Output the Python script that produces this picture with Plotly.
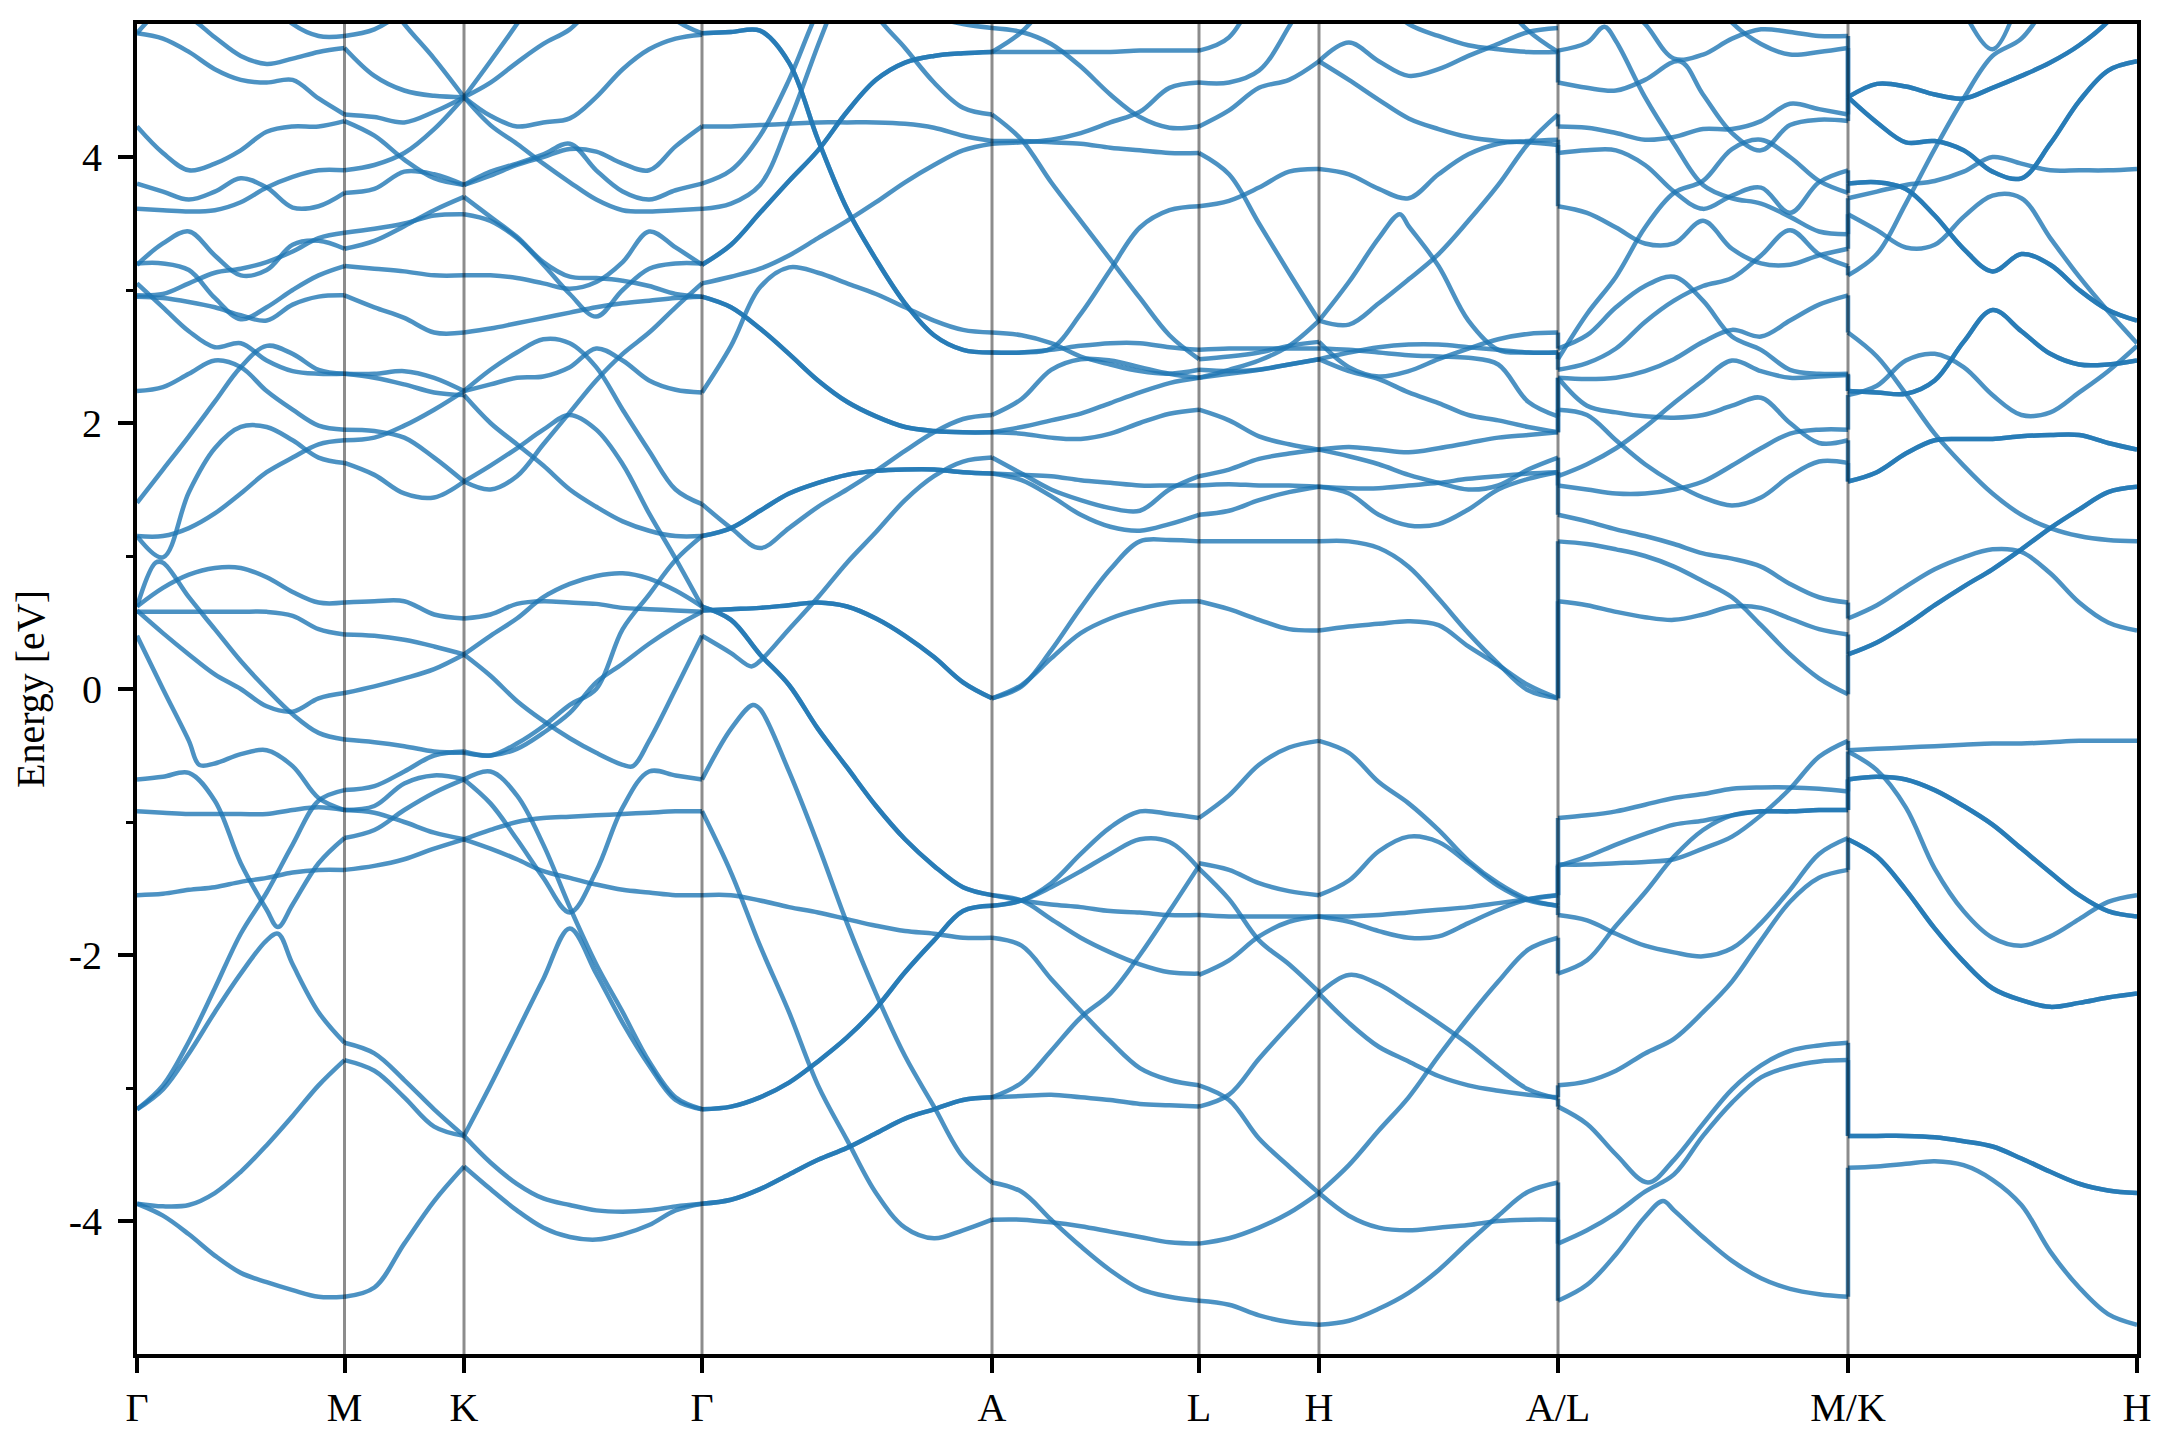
import plotly.graph_objects as go
import numpy as np

N = None
TICK_POS = [0, 207.5, 327, 565, 855, 1062, 1182, 1421, 1711, 2000]
TICK_TXT = ["Γ", "M", "K", "Γ", "A", "L", "H", "A/L", "M/K", "H"]

G_M = [
 [4.93,4.89,4.79,4.66,4.58,4.56,4.58,4.44,4.32],
 [4.93,5.10,5.05,4.90,4.76,4.70,4.74,4.79,4.82],
 [N,N,N,N,N,5.20,5.00,4.91,4.91],
 [4.23,4.03,3.90,3.95,4.05,4.19,4.23,4.23,4.27],
 [3.80,3.74,3.68,3.74,3.84,3.77,3.62,3.63,3.73],
 [3.61,3.60,3.59,3.60,3.66,3.77,3.85,3.90,3.90],
 [3.19,3.35,3.44,3.26,3.11,3.15,3.34,3.37,3.31],
 [3.20,3.20,3.15,2.94,2.78,2.87,3.00,3.11,3.18],
 [2.96,2.97,3.05,3.13,3.16,3.21,3.29,3.39,3.43],
 [2.95,2.94,2.91,2.87,2.81,2.77,2.89,2.95,2.96],
 [3.05,2.87,2.69,2.57,2.60,2.47,2.39,2.37,2.37],
 [2.24,2.27,2.37,2.47,2.42,2.24,2.10,1.98,1.95],
 [1.40,1.65,1.90,2.16,2.42,2.58,2.52,2.40,2.37],
 [1.15,0.99,1.48,1.81,1.97,1.97,1.87,1.74,1.70],
 [1.15,1.15,1.21,1.32,1.47,1.63,1.74,1.84,1.87],
 [0.62,0.95,0.69,0.45,0.21,0.00,-0.19,-0.33,-0.38],
 [0.62,0.76,0.86,0.91,0.91,0.84,0.73,0.65,0.65],
 [0.58,0.58,0.58,0.58,0.58,0.58,0.55,0.45,0.41],
 [0.59,0.42,0.26,0.11,0.00,-0.13,-0.17,-0.07,-0.03],
 [0.40,0.00,-0.39,-0.56,-0.49,-0.46,-0.58,-0.82,-0.91],
 [-0.68,-0.66,-0.63,-0.84,-1.31,-1.66,-1.62,-1.31,-1.12],
 [-0.92,-0.93,-0.94,-0.94,-0.94,-0.94,-0.91,-0.89,-0.91],
 [-1.55,-1.54,-1.51,-1.49,-1.45,-1.42,-1.38,-1.36,-1.36],
 [-3.16,-2.98,-2.65,-2.25,-1.84,-1.53,-1.17,-0.84,-0.76],
 [-3.16,-3.01,-2.74,-2.43,-2.14,-1.89,-2.07,-2.43,-2.66],
 [-3.87,-3.89,-3.88,-3.79,-3.63,-3.43,-3.21,-2.98,-2.79],
 [-3.87,-3.96,-4.10,-4.26,-4.39,-4.46,-4.52,-4.57,-4.57],
]
G_M_EXTRA = {15: [(0.09, 0.95)], 19: [(0.30, -0.57)], 20: [(0.679, -1.79)], 24: [(0.679, -1.84)]}
M_K = [
 [4.91,4.96,5.10,5.30,5.50],
 [5.60,5.30,5.00,4.74,4.45],
 [4.82,4.61,4.50,4.46,4.45],
 [4.32,4.30,4.26,4.34,4.45],
 [4.27,4.16,3.98,3.84,3.79],
 [3.90,3.94,4.03,4.21,4.45],
 [3.73,3.76,3.89,3.87,3.79],
 [3.43,3.46,3.50,3.56,3.57],
 [3.31,3.37,3.48,3.60,3.70],
 [3.18,3.16,3.14,3.11,3.11],
 [2.96,2.87,2.79,2.68,2.68],
 [2.37,2.37,2.39,2.34,2.24],
 [2.37,2.34,2.29,2.23,2.21],
 [1.95,1.94,1.89,1.74,1.56],
 [1.87,1.89,1.98,2.10,2.24],
 [1.70,1.61,1.47,1.44,1.56],
 [0.65,0.66,0.66,0.56,0.53],
 [0.41,0.40,0.37,0.32,0.26],
 [-0.03,0.02,0.08,0.15,0.26],
 [-0.38,-0.40,-0.43,-0.47,-0.48],
 [-0.76,-0.73,-0.62,-0.50,-0.47],
 [-0.91,-0.88,-0.71,-0.65,-0.68],
 [-0.91,-0.93,-1.00,-1.08,-1.13],
 [-1.12,-1.06,-0.91,-0.78,-0.68],
 [-1.36,-1.33,-1.28,-1.20,-1.13],
 [-2.66,-2.74,-2.94,-3.16,-3.36],
 [-2.79,-2.87,-3.07,-3.29,-3.36],
 [-4.57,-4.50,-4.17,-3.85,-3.59],
]
K_G = [
 [4.45,4.72,5.00,5.30,N,N,N,N,N,N],
 [4.45,4.56,4.71,4.85,4.96,5.15,5.25,5.25,5.03,4.93],
 [4.45,4.31,4.23,4.26,4.29,4.45,4.66,4.81,4.89,4.92],
 [4.45,4.24,4.10,3.95,3.81,3.68,3.60,3.59,3.60,3.61],
 [3.79,3.89,3.95,4.02,4.10,3.90,3.74,3.68,3.75,3.80],
 [3.79,3.86,3.94,4.00,4.06,4.04,3.95,3.90,4.08,4.23],
 [3.70,3.55,3.40,3.21,3.10,3.09,3.07,3.03,2.97,2.95],
 [3.57,3.52,3.39,3.19,2.97,2.80,3.00,3.16,3.20,3.20],
 [3.11,3.11,3.09,3.05,3.01,3.06,3.21,3.44,3.32,3.19],
 [2.68,2.71,2.75,2.79,2.83,2.87,2.90,2.92,2.94,2.95],
 [2.24,2.29,2.34,2.35,2.42,2.56,2.47,2.32,2.25,2.23],
 [2.24,2.40,2.53,2.63,2.60,2.42,2.10,1.79,1.50,1.39],
 [2.21,2.00,1.84,1.68,1.50,1.37,1.26,1.19,1.15,1.15],
 [1.56,1.68,1.81,1.95,2.06,1.95,1.69,1.32,0.98,0.62],
 [1.56,1.50,1.60,1.84,2.08,2.32,2.52,2.68,2.87,3.05],
 [0.53,0.56,0.64,0.66,0.65,0.64,0.61,0.60,0.59,0.58],
 [0.26,0.40,0.53,0.69,0.79,0.85,0.87,0.83,0.74,0.62],
 [0.26,0.10,-0.09,-0.24,-0.37,-0.48,-0.57,-0.39,0.00,0.40],
 [-0.47,-0.50,-0.41,-0.28,-0.12,0.00,0.45,0.71,0.97,1.15],
 [-0.48,-0.50,-0.45,-0.33,-0.18,0.05,0.19,0.34,0.47,0.58],
 [-0.68,-0.62,-0.80,-1.17,-1.64,-2.07,-2.43,-2.80,-3.07,-3.16],
 [-0.68,-0.86,-1.13,-1.42,-1.68,-1.37,-0.89,-0.62,-0.65,-0.68],
 [-1.13,-1.20,-1.28,-1.37,-1.42,-1.47,-1.51,-1.53,-1.55,-1.55],
 [-1.13,-1.06,-1.00,-0.97,-0.96,-0.95,-0.94,-0.93,-0.92,-0.92],
 [-3.36,-2.98,-2.58,-2.18,-1.80,-2.14,-2.51,-2.83,-3.09,-3.16],
 [-3.36,-3.56,-3.72,-3.83,-3.88,-3.92,-3.93,-3.92,-3.89,-3.87],
 [-3.59,-3.76,-3.92,-4.05,-4.12,-4.14,-4.10,-4.03,-3.92,-3.87],
]
K_G_EXTRA = {17: [(0.71, -0.58)]}
G_A = [
 [4.93,4.94,4.95,4.71,4.13,3.61,3.23,2.90,2.66,2.55,2.53],
 [3.19,3.34,3.58,3.82,4.05,4.34,4.58,4.71,4.76,4.78,4.79],
 [4.23,4.23,4.24,4.25,4.26,4.26,4.26,4.25,4.22,4.16,4.12],
 [3.80,3.90,4.16,4.58,5.10,5.50,N,N,N,N,N],
 [3.61,3.65,3.79,4.26,4.84,5.40,N,N,N,N,N],
 [N,N,N,N,N,5.50,5.07,4.82,4.56,4.37,4.32],
 [3.05,3.10,3.16,3.26,3.39,3.52,3.66,3.81,3.94,4.05,4.10],
 [2.23,2.58,3.02,3.17,3.13,3.05,2.97,2.87,2.77,2.70,2.68],
 [2.95,2.87,2.71,2.52,2.32,2.16,2.05,1.97,1.94,1.93,1.93],
 [1.39,1.21,1.06,1.21,1.37,1.50,1.64,1.79,1.93,2.03,2.06],
 [1.15,1.21,1.34,1.47,1.55,1.61,1.64,1.65,1.65,1.63,1.62],
 [0.40,0.27,0.21,0.45,0.69,0.95,1.18,1.42,1.60,1.71,1.74],
 [0.62,0.52,0.26,0.03,-0.30,-0.59,-0.88,-1.13,-1.33,-1.49,-1.55],
 [0.59,0.60,0.61,0.63,0.65,0.62,0.53,0.40,0.24,0.05,-0.07],
 [-0.68,-0.30,-0.15,-0.62,-1.17,-1.76,-2.29,-2.76,-3.14,-3.52,-3.71],
 [-0.92,-1.38,-1.93,-2.43,-2.98,-3.39,-3.79,-4.05,-4.13,-4.07,-3.99],
 [-1.55,-1.55,-1.59,-1.64,-1.68,-1.73,-1.78,-1.82,-1.84,-1.87,-1.87],
 [-3.16,-3.14,-3.07,-2.96,-2.80,-2.62,-2.40,-2.13,-1.89,-1.67,-1.63],
 [-3.87,-3.84,-3.76,-3.65,-3.54,-3.45,-3.34,-3.23,-3.16,-3.09,-3.07],
 [N,N,N,N,N,N,N,N,5.05,5.00,4.97],
]
G_A_DOUBLE = [0, 1, 8, 10, 12, 13, 17, 18]
G_A_EXTRA = {14: [(0.175, -0.12)], 11: [(0.17, 0.17)]}
A_L = [
 [4.79,4.94,5.20,N,N,N,N,N],
 [4.97,4.94,4.85,4.68,4.47,4.30,4.22,4.23],
 [4.79,4.79,4.79,4.79,4.79,4.80,4.80,4.80],
 [4.32,4.13,3.81,3.52,3.23,2.94,2.66,2.48],
 [4.12,4.12,4.11,4.10,4.07,4.05,4.03,4.03],
 [4.10,4.11,4.13,4.18,4.26,4.34,4.52,4.56],
 [2.68,2.66,2.60,2.50,2.44,2.39,2.37,2.40],
 [2.53,2.53,2.55,2.58,2.60,2.60,2.57,2.55],
 [2.53,2.53,2.56,2.82,3.15,3.47,3.60,3.63],
 [2.06,2.18,2.40,2.48,2.47,2.42,2.37,2.34],
 [1.93,1.97,2.02,2.07,2.15,2.23,2.30,2.34],
 [1.93,1.92,1.89,1.88,1.92,2.00,2.07,2.10],
 [1.74,1.62,1.50,1.42,1.36,1.34,1.50,1.60],
 [1.62,1.61,1.60,1.57,1.55,1.53,1.53,1.53],
 [1.62,1.57,1.45,1.31,1.22,1.19,1.24,1.31],
 [-0.07,0.02,0.29,0.61,0.90,1.11,1.12,1.11],
 [-0.07,0.03,0.23,0.42,0.53,0.60,0.65,0.66],
 [-1.55,-1.59,-1.62,-1.64,-1.67,-1.68,-1.70,-1.70],
 [-1.55,-1.59,-1.73,-1.87,-1.98,-2.07,-2.13,-2.14],
 [-1.63,-1.59,-1.46,-1.24,-1.04,-0.92,-0.94,-0.97],
 [-1.63,-1.59,-1.49,-1.37,-1.24,-1.13,-1.15,-1.35],
 [-1.87,-1.93,-2.18,-2.42,-2.65,-2.85,-2.94,-2.98],
 [-3.07,-2.96,-2.72,-2.47,-2.29,-2.00,-1.67,-1.33],
 [-3.07,-3.06,-3.05,-3.07,-3.09,-3.12,-3.13,-3.14],
 [-3.71,-3.78,-3.99,-4.19,-4.37,-4.51,-4.57,-4.60],
 [-3.99,-3.99,-4.01,-4.04,-4.08,-4.12,-4.16,-4.17],
]
L_H = [
 [4.80,4.90,5.30,N,N],
 [4.56,4.56,4.65,4.98,5.40],
 [4.23,4.35,4.52,4.58,4.72],
 [4.03,3.87,3.50,3.13,2.77],
 [3.63,3.67,3.77,3.89,3.91],
 [2.55,2.56,2.56,2.56,2.56],
 [2.48,2.50,2.53,2.58,2.61],
 [2.40,2.39,2.40,2.44,2.48],
 [2.34,2.37,2.40,2.44,2.48],
 [2.34,2.40,2.47,2.58,2.77],
 [2.10,2.02,1.90,1.84,1.80],
 [1.60,1.65,1.73,1.77,1.80],
 [1.53,1.54,1.53,1.53,1.52],
 [1.31,1.34,1.42,1.48,1.52],
 [1.11,1.11,1.11,1.11,1.11],
 [0.66,0.60,0.52,0.45,0.44],
 [-0.97,-0.80,-0.57,-0.44,-0.39],
 [-1.31,-1.36,-1.46,-1.52,-1.55],
 [-1.35,-1.58,-1.89,-2.07,-2.28],
 [-1.70,-1.71,-1.71,-1.71,-1.71],
 [-2.15,-2.04,-1.86,-1.75,-1.71],
 [-2.98,-3.09,-3.38,-3.59,-3.79],
 [-3.14,-3.05,-2.78,-2.53,-2.29],
 [-4.17,-4.13,-4.05,-3.94,-3.79],
 [-4.60,-4.63,-4.71,-4.76,-4.78],
]
H_A = [
 [4.72,4.86,4.72,4.61,4.66,4.76,4.85,4.94,4.97],
 [4.72,4.58,4.43,4.29,4.21,4.15,4.12,4.11,4.09],
 [N,N,5.20,5.00,4.91,4.84,4.81,4.79,4.79],
 [N,N,N,N,N,N,5.20,4.95,4.79],
 [3.91,3.87,3.76,3.69,3.87,4.02,4.10,4.12,4.13],
 [2.77,3.06,3.39,3.48,3.18,2.77,2.55,2.53,2.53],
 [2.77,2.74,2.90,3.08,3.27,3.52,3.79,4.10,4.32],
 [2.61,2.42,2.35,2.39,2.48,2.56,2.63,2.67,2.68],
 [2.56,2.55,2.53,2.51,2.50,2.49,2.44,2.16,2.05],
 [2.48,2.53,2.57,2.59,2.59,2.57,2.55,2.53,2.53],
 [2.48,2.39,2.33,2.23,2.15,2.06,2.02,1.97,1.93],
 [1.80,1.82,1.80,1.78,1.81,1.85,1.89,1.91,1.93],
 [1.80,1.75,1.69,1.61,1.55,1.50,1.53,1.65,1.74],
 [1.52,1.51,1.51,1.53,1.55,1.58,1.60,1.62,1.63],
 [1.52,1.47,1.31,1.23,1.24,1.35,1.50,1.58,1.63],
 [1.11,1.11,1.06,0.92,0.68,0.42,0.19,-0.01,-0.07],
 [0.44,0.47,0.49,0.51,0.48,0.32,0.18,0.03,-0.07],
 [-0.39,-0.48,-0.70,-0.86,-1.06,-1.29,-1.46,-1.58,-1.63],
 [-1.55,-1.44,-1.22,-1.11,-1.15,-1.31,-1.48,-1.59,-1.63],
 [-1.71,-1.75,-1.82,-1.87,-1.86,-1.76,-1.66,-1.58,-1.55],
 [-1.71,-1.71,-1.70,-1.68,-1.66,-1.64,-1.61,-1.58,-1.55],
 [-2.29,-2.15,-2.22,-2.36,-2.51,-2.67,-2.85,-3.01,-3.08],
 [-2.29,-2.51,-2.69,-2.80,-2.91,-2.98,-3.02,-3.05,-3.07],
 [-3.79,-3.58,-3.32,-3.07,-2.76,-2.47,-2.20,-1.96,-1.87],
 [-3.79,-3.96,-4.05,-4.07,-4.05,-4.03,-4.00,-3.99,-3.99],
 [-4.78,-4.75,-4.66,-4.54,-4.37,-4.16,-3.96,-3.78,-3.71],
]
H_A_EXTRA = {5: [(0.338, 3.57)]}
L_M = [
 [4.80,4.86,4.87,4.45,4.10,3.79,3.69,3.65,3.55,3.44,3.42],
 [4.56,4.52,4.50,4.58,4.68,4.47,4.18,4.05,4.24,4.28,4.27],
 [N,N,5.20,5.00,4.74,4.77,4.89,4.96,4.94,4.91,4.91],
 [N,N,N,N,N,5.30,5.01,4.85,4.77,4.79,4.82],
 [4.23,4.22,4.18,4.13,4.15,4.21,4.21,4.27,4.40,4.36,4.32],
 [4.03,4.05,4.05,3.94,3.74,3.61,3.71,3.77,3.58,3.81,3.90],
 [3.63,3.58,3.47,3.35,3.35,3.52,3.31,3.20,3.19,3.26,3.31],
 [2.48,2.82,3.10,3.47,3.73,3.82,4.06,4.13,4.00,3.82,3.73],
 [2.56,2.66,2.87,3.03,3.10,2.92,2.65,2.55,2.40,2.37,2.37],
 [2.40,2.45,2.56,2.76,2.92,3.03,3.09,3.26,3.45,3.27,3.18],
 [2.34,2.33,2.34,2.39,2.48,2.61,2.70,2.65,2.77,2.89,2.96],
 [2.34,2.13,2.08,2.05,2.04,2.06,2.13,2.19,2.00,1.85,1.87],
 [2.10,2.06,1.87,1.69,1.55,1.44,1.38,1.44,1.60,1.71,1.70],
 [1.60,1.69,1.81,1.97,2.15,2.32,2.47,2.39,2.34,2.35,2.36],
 [1.53,1.50,1.47,1.47,1.50,1.56,1.68,1.81,1.92,1.95,1.95],
 [1.31,1.26,1.20,1.15,1.09,1.02,0.98,0.92,0.79,0.69,0.65],
 [1.11,1.09,1.05,1.00,0.92,0.81,0.69,0.48,0.26,0.08,-0.04],
 [0.66,0.63,0.58,0.54,0.52,0.56,0.62,0.61,0.53,0.45,0.41],
 [-0.97,-0.95,-0.92,-0.87,-0.82,-0.79,-0.75,-0.74,-0.74,-0.75,-0.77],
 [-1.33,-1.26,-1.17,-1.09,-1.02,-0.99,-0.95,-0.92,-0.92,-0.91,-0.91],
 [-1.32,-1.32,-1.31,-1.30,-1.28,-1.20,-1.11,-0.95,-0.75,-0.51,-0.39],
 [-2.14,-2.04,-1.78,-1.53,-1.26,-1.06,-0.95,-0.92,-0.92,-0.91,-0.91],
 [-1.70,-1.74,-1.84,-1.93,-1.98,-2.01,-1.95,-1.76,-1.51,-1.24,-1.12],
 [-2.98,-2.95,-2.87,-2.74,-2.63,-2.43,-2.20,-1.89,-1.60,-1.42,-1.36],
 [-3.14,-3.27,-3.50,-3.70,-3.54,-3.27,-3.01,-2.83,-2.72,-2.68,-2.66],
 [-4.17,-4.07,-3.94,-3.78,-3.65,-3.36,-3.11,-2.92,-2.84,-2.80,-2.79],
 [-4.60,-4.48,-4.25,-3.97,-3.92,-4.12,-4.30,-4.43,-4.51,-4.55,-4.57],
]
L_M_EXTRA = {24: [(0.31, -3.71)], 26: [(0.362, -3.85)], 0: [(0.16, 4.98)], 1: [(0.42, 4.72)]}
K_H = [
 [4.45,4.55,4.53,4.47,4.44,4.52,4.61,4.71,4.84,5.02,5.30],
 [4.45,4.26,4.11,4.12,4.05,3.89,3.84,4.10,4.42,4.65,4.72],
 [N,N,N,N,5.10,4.81,5.25,N,N,N,N],
 [3.11,3.27,3.65,4.06,4.44,4.76,4.89,5.20,N,N,N],
 [3.69,3.74,3.79,3.82,3.89,4.00,3.95,3.90,3.90,3.90,3.91],
 [3.80,3.81,3.76,3.56,3.31,3.14,3.27,3.19,3.00,2.85,2.77],
 [3.57,3.45,3.32,3.34,3.55,3.71,3.69,3.39,3.10,2.84,2.60],
 [2.68,2.50,2.22,1.92,1.68,1.47,1.31,1.21,1.15,1.12,1.11],
 [2.21,2.28,2.47,2.52,2.42,2.21,2.06,2.08,2.23,2.39,2.58],
 [2.24,2.23,2.22,2.32,2.61,2.85,2.69,2.52,2.44,2.44,2.47],
 [1.56,1.63,1.77,1.87,1.88,1.88,1.90,1.91,1.91,1.85,1.80],
 [0.26,0.35,0.48,0.63,0.77,0.90,1.05,1.21,1.35,1.48,1.52],
 [0.53,0.63,0.77,0.90,0.99,1.05,1.03,0.87,0.65,0.50,0.44],
 [-0.46,-0.45,-0.44,-0.43,-0.42,-0.41,-0.41,-0.40,-0.39,-0.39,-0.39],
 [-0.68,-0.66,-0.68,-0.76,-0.88,-1.02,-1.20,-1.38,-1.55,-1.67,-1.71],
 [-0.47,-0.61,-0.89,-1.35,-1.67,-1.87,-1.93,-1.86,-1.73,-1.60,-1.55],
 [-1.13,-1.26,-1.51,-1.80,-2.05,-2.25,-2.34,-2.39,-2.36,-2.32,-2.29],
 [-3.36,-3.36,-3.36,-3.37,-3.40,-3.44,-3.53,-3.63,-3.72,-3.77,-3.79],
 [-3.60,-3.59,-3.57,-3.55,-3.58,-3.69,-3.88,-4.23,-4.50,-4.70,-4.78],
]
K_H_DOUBLE = [0, 1, 5, 9, 10, 11, 14, 16, 17]

BAND_COLOR = "rgba(31,119,180,0.8)"
LINE_W = 4.5

segments = [
 (0, 1, G_M, [], G_M_EXTRA), (1, 2, M_K, [], {}), (2, 3, K_G, [], K_G_EXTRA),
 (3, 4, G_A, G_A_DOUBLE, G_A_EXTRA), (4, 5, A_L, [], {}), (5, 6, L_H, [], {}),
 (6, 7, H_A, [], H_A_EXTRA), (7, 8, L_M, [], L_M_EXTRA), (8, 9, K_H, K_H_DOUBLE, {}),
]

fig = go.Figure()

def add_line(x, y):
    fig.add_trace(go.Scatter(x=x, y=y, mode="lines", showlegend=False, hoverinfo="skip",
                             line=dict(color=BAND_COLOR, width=LINE_W, shape="spline", smoothing=1.0)))

for i, j, bands, dbl, extra in segments:
    for b, vals in enumerate(bands):
        xs = np.linspace(0, 1, len(vals)).tolist()
        pts = sorted(list(zip(xs, vals)) + extra.get(b, []), key=lambda p: p[0])
        # a read-off extra point replaces any grid sample lying very close to it
        kept = []
        for f, v in pts:
            if any(abs(f - g) < 0.02 and (f, v) not in extra.get(b, []) for g, _ in extra.get(b, [])):
                continue
            kept.append((f, v))
        x = [TICK_POS[i] + f * (TICK_POS[j] - TICK_POS[i]) for f, _ in kept]
        y = [v for _, v in kept]
        for _ in range(2 if b in dbl else 1):
            add_line(x, y)

def edge(bands, idx, dbl=()):
    out = []
    for b, v in enumerate(bands):
        if v[idx] is not None and v[idx] < 5:
            out += [v[idx]] * (2 if b in dbl else 1)
    return sorted(out)

# band jumps at the discontinuous path points
for pos, left, right in [(TICK_POS[7], edge(H_A, -1), edge(L_M, 0)),
                         (TICK_POS[8], edge(L_M, -1), edge(K_H, 0, K_H_DOUBLE))]:
    for a, b in zip(left, right):
        fig.add_trace(go.Scatter(x=[pos, pos], y=[a, b], mode="lines", showlegend=False, hoverinfo="skip",
                                 line=dict(color=BAND_COLOR, width=LINE_W)))

for t in TICK_POS[1:-1]:
    fig.add_trace(go.Scatter(x=[t, t], y=[-5, 5], mode="lines", showlegend=False, hoverinfo="skip",
                             line=dict(color="rgba(0,0,0,0.45)", width=3)))

FONT = dict(family="Liberation Serif", size=40, color="black")
fig.update_layout(
    width=2160, height=1440, margin=dict(l=129.4, r=30.6, t=13, b=94),
    plot_bgcolor="white", paper_bgcolor="white", font=FONT, showlegend=False,
    xaxis=dict(range=[0, 2000], tickmode="array", tickvals=TICK_POS, ticktext=TICK_TXT,
               showgrid=False, zeroline=False, showline=True, mirror=True, linecolor="black", linewidth=4,
               ticks="outside", ticklen=15, tickwidth=4, tickcolor="black", tickfont=FONT),
    yaxis=dict(range=[-5, 5], tickmode="array", tickvals=[-4, -2, 0, 2, 4], ticktext=["-4", "-2", "0", "2", "4"],
               showgrid=False, zeroline=False, showline=True, mirror=True, linecolor="black", linewidth=4,
               ticks="outside", ticklen=15, tickwidth=4, tickcolor="black", tickfont=FONT,
               ticklabelstandoff=8,
               title=dict(text="Energy [eV]", font=FONT, standoff=21),
               minor=dict(tickmode="array", tickvals=[-3, -1, 1, 3], ticks="outside", ticklen=7, tickwidth=3,
                          tickcolor="black", showgrid=False)),
)
fig.write_html("out.html")
